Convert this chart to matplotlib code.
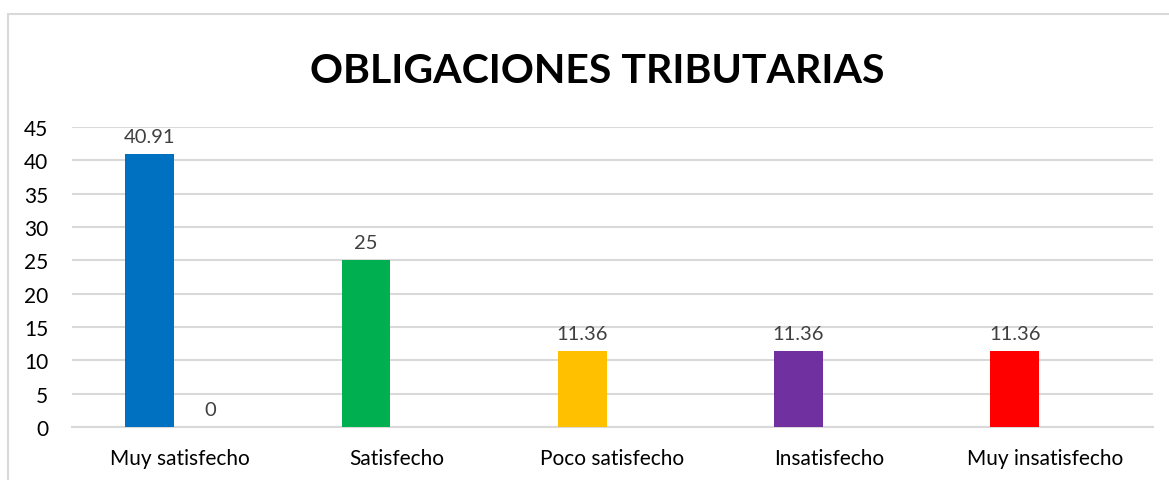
import matplotlib
matplotlib.use("Agg")
import matplotlib.pyplot as plt
from matplotlib.patches import Rectangle
import numpy as np

# Datos del gráfico
categorias = ["Muy satisfecho", "Satisfecho", "Poco satisfecho", "Insatisfecho", "Muy insatisfecho"]
serie1 = [40.91, 25, 11.36, 11.36, 11.36]
serie2 = [0, None, None, None, None]
colores = ["#0070C0", "#00B050", "#FFC000", "#7030A0", "#FF0000"]
titulo = "OBLIGACIONES TRIBUTARIAS"
yticks = [0, 5, 10, 15, 20, 25, 30, 35, 40, 45]

plt.rcParams['font.family'] = ['Lato', 'DejaVu Sans']

fig = plt.figure(figsize=(11.69, 4.81), dpi=100)
ax = fig.add_axes([0.0616, 0.1102, 0.9247, 0.6237])

# Marco del gráfico (estilo Excel)
fig.patches.append(Rectangle((8 / 1169, -0.1), 1.2, 1 - 15 / 481 + 0.1,
                             transform=fig.transFigure, fill=False,
                             edgecolor="#d9d9d9", linewidth=1.5))

x = np.arange(len(categorias))
ancho = 0.226
desp = 0.14

ax.bar(x - desp, serie1, width=ancho, color=colores, zorder=3)
for xi, v in zip(x, serie1):
    ax.text(xi - desp, v + 1.4, f"{v:g}", ha="center", va="bottom",
            fontsize=14.5, color="#404040")

for xi, v in zip(x, serie2):
    if v is None:
        continue
    ax.bar(xi + desp, v, width=ancho, color="#ED7D31", zorder=3)
    ax.text(xi + desp, v + 1.4, f"{v:g}", ha="center", va="bottom",
            fontsize=14.5, color="#404040")

ax.set_xlim(-0.5, len(categorias) - 0.5)
ax.set_ylim(0, 45)
ax.set_yticks(yticks)
ax.set_xticks(x)
ax.set_xticklabels(categorias, fontsize=15, color="#000000")
ax.tick_params(axis="y", labelsize=15, colors="#000000", length=0, pad=17)
ax.tick_params(axis="x", length=0, pad=15)
ax.grid(axis="y", color="#d9d9d9", linewidth=1.5, zorder=0)
for s in ["top", "right", "left"]:
    ax.spines[s].set_visible(False)
ax.spines["bottom"].set_color("#d9d9d9")
ax.spines["bottom"].set_linewidth(1.5)

fig.text(0.511, 0.852, titulo, ha="center", va="center",
         fontsize=29.5, fontweight="bold", color="#000000")

fig.savefig("out.png", dpi=100)
